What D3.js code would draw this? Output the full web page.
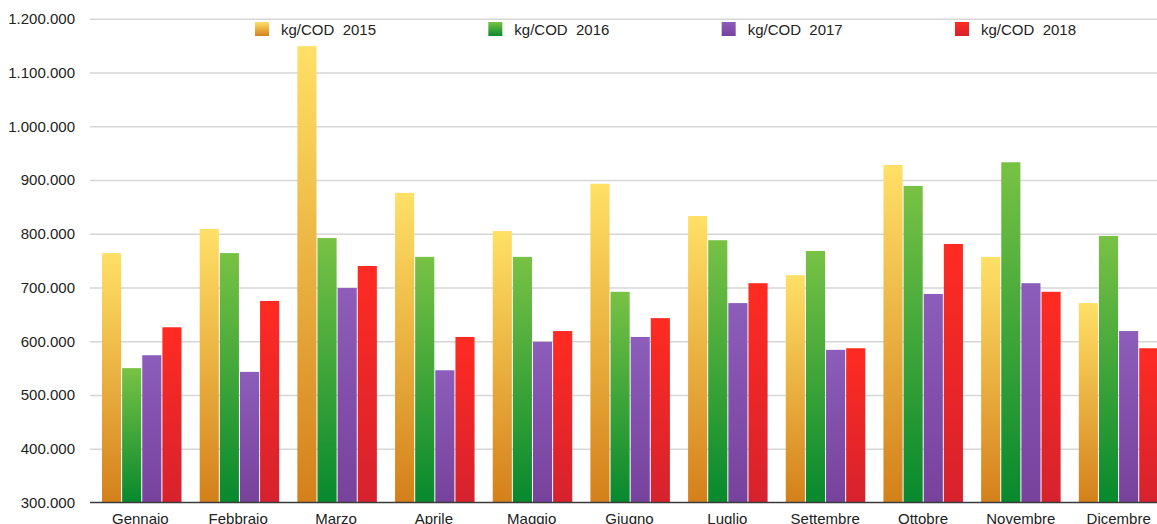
<!DOCTYPE html>
<html>
<head>
<meta charset="utf-8">
<script src="https://cdn.jsdelivr.net/npm/d3@7"></script>
<style>
  html, body { margin: 0; padding: 0; background: #fff; }
  svg { display: block; font-family: "Liberation Sans", Arial, sans-serif; }
</style>
</head>
<body>
<svg id="chart" width="1157" height="524"></svg>
<script>
const months = ["Gennaio", "Febbraio", "Marzo", "Aprile", "Maggio", "Giugno", "Luglio", "Settembre", "Ottobre", "Novembre", "Dicembre"];
const seriesNames = ["kg/COD  2015", "kg/COD  2016", "kg/COD  2017", "kg/COD  2018"];
const values2015 = [764000, 809000, 1149000, 876000, 805000, 893000, 833000, 723000, 928000, 757000, 671000];
const values2016 = [550000, 764000, 792000, 757000, 757000, 692000, 788000, 768000, 889000, 933000, 796000];
const values2017 = [574000, 543000, 699000, 546000, 599000, 608000, 671000, 584000, 688000, 708000, 619000];
const values2018 = [626000, 675000, 740000, 608000, 619000, 643000, 708000, 587000, 781000, 692000, 587000];
const yTicks = [300000, 400000, 500000, 600000, 700000, 800000, 900000, 1000000, 1100000, 1200000];

const seriesValues = [values2015, values2016, values2017, values2018];
const gradStops = [
  ["#FFE066", "#D4801A"],
  ["#78C244", "#07892E"],
  ["#8C5DBA", "#77429C"],
  ["#FF2B22", "#D6222E"]
];

const svg = d3.select("#chart");
const mLeft = 90, mRight = 1157, mTop = 18.75, mBottom = 502.5;

const y = d3.scaleLinear().domain([300000, 1200000]).range([mBottom, mTop]);
const x0 = d3.scaleBand().domain(months).range([90.5, 1165]).paddingInner(0).paddingOuter(0);
const x1 = d3.scaleBand().domain(seriesNames).range([11.5, 91]).paddingInner(0.05).paddingOuter(0);

const loc = d3.formatLocale({decimal: ",", thousands: ".", grouping: [3], currency: ["", ""]});
const fmt = loc.format(",.0f");

// gradients
const defs = svg.append("defs");
gradStops.forEach((g, i) => {
  const lg = defs.append("linearGradient").attr("id", "grad" + i)
    .attr("x1", 0).attr("y1", 0).attr("x2", 0).attr("y2", 1);
  lg.append("stop").attr("offset", "0%").attr("stop-color", g[0]);
  lg.append("stop").attr("offset", "100%").attr("stop-color", g[1]);
});

// gridlines + y labels
const yAxis = d3.axisLeft(y).tickValues(yTicks).tickFormat(fmt)
  .tickSizeInner(-(mRight - mLeft)).tickSizeOuter(0).tickPadding(15);
const gy = svg.append("g").attr("transform", `translate(${mLeft},0)`).call(yAxis);
gy.select(".domain").remove();
gy.selectAll(".tick line").attr("stroke", "#d6d6d6").attr("stroke-width", 1.6);
gy.selectAll(".tick text").attr("font-size", 15).attr("fill", "#222")
  .attr("font-family", "Liberation Sans, Arial, sans-serif");
gy.selectAll(".tick").filter(d => d === 300000).select("line").remove();

// bars
const groups = svg.append("g").selectAll("g").data(months).join("g")
  .attr("transform", d => `translate(${x0(d)},0)`);
groups.selectAll("rect")
  .data((m, mi) => seriesNames.map((s, si) => ({s, si, v: seriesValues[si][mi]})))
  .join("rect")
  .attr("x", d => x1(d.s))
  .attr("width", x1.bandwidth())
  .attr("y", d => y(d.v))
  .attr("height", d => mBottom - y(d.v))
  .attr("fill", d => `url(#grad${d.si})`);

// baseline / x axis
const xAxis = d3.axisBottom(d3.scalePoint().domain(months).range([x0(months[0]) + x0.bandwidth() / 2 + 0.5, x0(months[months.length - 1]) + x0.bandwidth() / 2 + 2]))
  .tickSize(0).tickPadding(11);
const gx = svg.append("g").attr("transform", `translate(0,${mBottom})`).call(xAxis);
gx.select(".domain").remove();
gx.selectAll(".tick text").attr("font-size", 15).attr("fill", "#222")
  .attr("font-family", "Liberation Sans, Arial, sans-serif");
svg.append("line").attr("x1", mLeft).attr("x2", mRight).attr("y1", mBottom).attr("y2", mBottom)
  .attr("stroke", "#3a3a3a").attr("stroke-width", 1.5);

// legend
const legendX = d3.scalePoint().domain(seriesNames).range([255, 955]);
const lg = svg.append("g").selectAll("g").data(seriesNames).join("g")
  .attr("transform", d => `translate(${legendX(d)},22)`);
lg.append("rect").attr("width", 14).attr("height", 14)
  .attr("fill", (d, i) => `url(#grad${i})`);
lg.append("text").attr("x", 26).attr("y", 13).attr("font-size", 15).attr("fill", "#222")
  .style("white-space", "pre").text(d => d);
</script>
</body>
</html>
